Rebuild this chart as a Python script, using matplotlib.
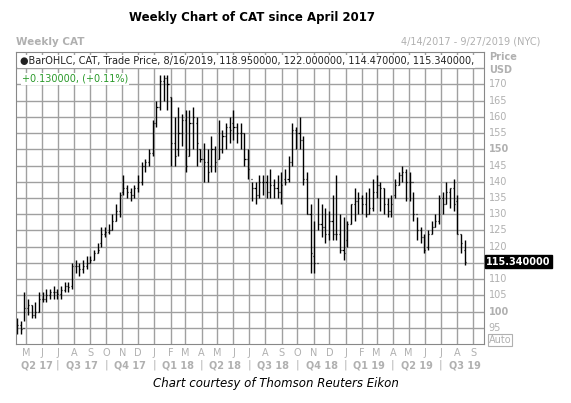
import matplotlib
matplotlib.use("Agg")
import matplotlib.pyplot as plt
import matplotlib.dates as mdates
import pandas as pd

closes = [96, 94.5, 101, 102, 99, 100, 104, 104, 105, 106, 106, 105.5, 106.5, 108, 107.5, 114,
          114, 113, 114, 115, 116, 118, 119, 124, 124.5, 125, 128, 131, 136, 138, 137, 136, 138,
          140, 145, 146, 149, 158, 163, 171, 172, 170, 152, 148, 155, 159, 145, 158, 160, 152, 147,
          146, 143, 150, 146, 150, 154, 157, 156, 157, 155, 155, 147, 144, 138, 136, 140, 140,
          137, 139, 138, 137, 139, 140, 146, 156, 155, 153, 141, 130, 118, 115, 127, 126, 124, 128,
          124, 124, 119, 118, 127, 133, 134, 135, 133, 130, 132, 137, 139, 138, 133, 131, 133,
          139, 142, 143, 140, 140, 130, 125, 123, 119, 124, 126, 128, 135, 133, 137, 138, 133,
          124, 121, 115.34]
opens = [95, 96, 95, 101, 102, 99, 100, 104, 104, 105, 106, 106, 105.5, 106.5, 108, 108,
         114, 114, 113, 114, 115, 116, 118, 121, 124, 124.5, 125, 128, 131, 137, 138, 137, 136,
         138, 140, 145, 146, 149, 158, 163, 171, 172, 166, 152, 150, 155, 159, 148, 158, 158, 150,
         147, 146, 145, 150, 147, 150, 154, 157, 158, 157, 155, 155, 147, 141, 138, 136, 140,
         140, 137, 139, 138, 137, 141, 141, 146, 156, 155, 153, 141, 130, 117, 115, 127, 126, 124,
         128, 124, 124, 119, 122, 127, 133, 134, 135, 133, 130, 132, 137, 139, 138, 133, 131,
         136, 139, 142, 143, 140, 140, 130, 125, 123, 120, 124, 126, 128, 135, 133, 137, 138,
         134, 124, 118.95]
highs = [98, 97, 106, 104, 102, 103, 106, 106, 107, 107, 108, 107, 108, 109, 109, 115,
         116, 115, 116, 117, 117, 119, 121, 126, 126, 127, 130, 133, 137, 142, 139, 138, 139,
         142, 146, 147, 150, 159, 165, 173, 173, 173, 166, 160, 163, 161, 162, 162, 163, 160, 150,
         152, 150, 154, 151, 159, 156, 158, 160, 162, 158, 158, 155, 150, 140, 140, 142, 142,
         142, 144, 141, 142, 143, 144, 148, 158, 157, 160, 154, 143, 133, 128, 135, 133, 132, 131,
         136, 142, 130, 129, 128, 133, 138, 137, 136, 137, 138, 141, 142, 140, 138, 135, 136,
         141, 143, 145, 144, 143, 137, 129, 126, 124, 125, 128, 130, 136, 137, 140, 138, 141,
         136, 124, 122]
lows = [93, 93, 97, 99, 98, 98, 100, 103, 103, 104, 104, 104, 104, 106, 106, 107,
        112, 111, 112, 113, 115, 116, 118, 120, 123, 124, 125, 128, 129, 136, 135, 134, 135,
        137, 139, 143, 145, 148, 157, 162, 165, 162, 145, 145, 148, 151, 143, 148, 150, 145, 146,
        140, 140, 143, 143, 147, 149, 150, 152, 153, 152, 150, 145, 141, 134, 133, 135, 136,
        135, 135, 135, 135, 133, 139, 140, 145, 150, 150, 139, 130, 112, 112, 125, 123, 121, 122,
        122, 122, 118, 116, 120, 127, 128, 130, 130, 129, 130, 131, 135, 131, 130, 129, 129,
        135, 139, 140, 134, 134, 128, 122, 121, 118, 119, 124, 126, 127, 130, 133, 132, 131,
        124, 118, 114.47]
month_labels = ["M","J","J","A","S","O","N","D","J","F","M","A","M","J","J","A","S","O","N","D",
                "J","F","M","A","M","J","J","A","S"]
quarter_labels = ["Q2 17","Q3 17","Q4 17","Q1 18","Q2 18","Q3 18","Q4 18","Q1 19","Q2 19","Q3 19"]

n = len(closes)
dates = pd.date_range(end="2019-08-16", periods=n, freq="7D")
x = mdates.date2num(dates)

fig = plt.figure(figsize=(5.71, 4.03), dpi=100)
ax = fig.add_axes([16/571, 59/403, 468/571, 292/403])
ax.set_xlim(mdates.date2num(pd.Timestamp("2017-04-12")), mdates.date2num(pd.Timestamp("2019-09-22")))
ax.set_ylim(90, 180)
gc = "#a0a0a0"
months = pd.date_range("2017-05-01", "2019-09-01", freq="MS")
for m in months:
    ax.axvline(mdates.date2num(m), color=gc, lw=1, zorder=0)
for v in range(95, 180, 5):
    ax.axhline(v, color=gc, lw=1, zorder=0)
ax.vlines(x, lows, highs, color="black", lw=1.0)
ax.hlines(opens, x - 2, x, color="black", lw=0.9)
ax.hlines(closes, x, x + 2, color="black", lw=0.9)
ax.set_xticks([]); ax.set_yticks([])
for s in ax.spines.values():
    s.set_color("#888888")

lc = "#b0b0b0"
for m, lab in zip(months, month_labels):
    ax.text(mdates.date2num(m), -0.03, lab, transform=ax.get_xaxis_transform(), ha="center",
            va="center", fontsize=7, color=lc)
qstarts = pd.date_range("2017-04-01", "2019-10-01", freq="QS")
for i, lab in enumerate(quarter_labels):
    mid = (mdates.date2num(qstarts[i]) + mdates.date2num(qstarts[i+1])) / 2
    if i == 0:
        mid = (ax.get_xlim()[0] + mdates.date2num(qstarts[1])) / 2
    ax.text(mid, -0.072, lab, transform=ax.get_xaxis_transform(), ha="center", va="center",
            fontsize=7, color=lc, fontweight="bold")
    if i > 0:
        ax.text(mdates.date2num(qstarts[i]), -0.072, "|", transform=ax.get_xaxis_transform(),
                ha="center", va="center", fontsize=7.5, color=lc)
for v in range(95, 175, 5):
    if v == 115:
        continue
    ax.text(1.01, v, str(v), transform=ax.get_yaxis_transform(), ha="left", va="center",
            fontsize=7, color=lc, fontweight="bold" if v % 50 == 0 else "normal")
ax.text(1.01, 176.5, "Price\nUSD", transform=ax.get_yaxis_transform(), ha="left", va="center",
        fontsize=7, color=lc, fontweight="bold", linespacing=1.3)
ax.text(1.01, 91.2, "Auto", transform=ax.get_yaxis_transform(), ha="left", va="center",
        fontsize=7, color=lc, bbox=dict(boxstyle="square,pad=0.1", fc="white", ec=lc, lw=0.8))
ax.text(1.005, 115.34, "115.340000", transform=ax.get_yaxis_transform(), ha="left", va="center",
        fontsize=7, color="white", fontweight="bold",
        bbox=dict(boxstyle="square,pad=0.15", fc="black", ec="black"))
ax.text(0.008, 0.985, "\u25cfBarOHLC, CAT, Trade Price, 8/16/2019, 118.950000, 122.000000, 114.470000, 115.340000,",
        transform=ax.transAxes, ha="left", va="top", fontsize=7, color="#222222",
        bbox=dict(boxstyle="square,pad=0.15", fc="white", ec="none"))
ax.text(0.012, 0.925, "+0.130000, (+0.11%)", transform=ax.transAxes, ha="left", va="top",
        fontsize=7, color="#2a9a2a", bbox=dict(boxstyle="square,pad=0.1", fc="white", ec="none"))

fig.text(252/571, 1 - 18/403, "Weekly Chart of CAT since April 2017", ha="center", va="center",
         fontsize=8.5, fontweight="bold")
fig.text(16/571, 1 - 42/403, "Weekly CAT", ha="left", va="center", fontsize=7.5, color=lc,
         fontweight="bold")
fig.text(540/571, 1 - 42/403, "4/14/2017 - 9/27/2019 (NYC)", ha="right", va="center",
         fontsize=7, color=lc)
fig.text(276/571, 1 - 383/403, "Chart courtesy of Thomson Reuters Eikon", ha="center",
         va="center", fontsize=8.5, style="italic")
fig.savefig("out.png", dpi=100)
